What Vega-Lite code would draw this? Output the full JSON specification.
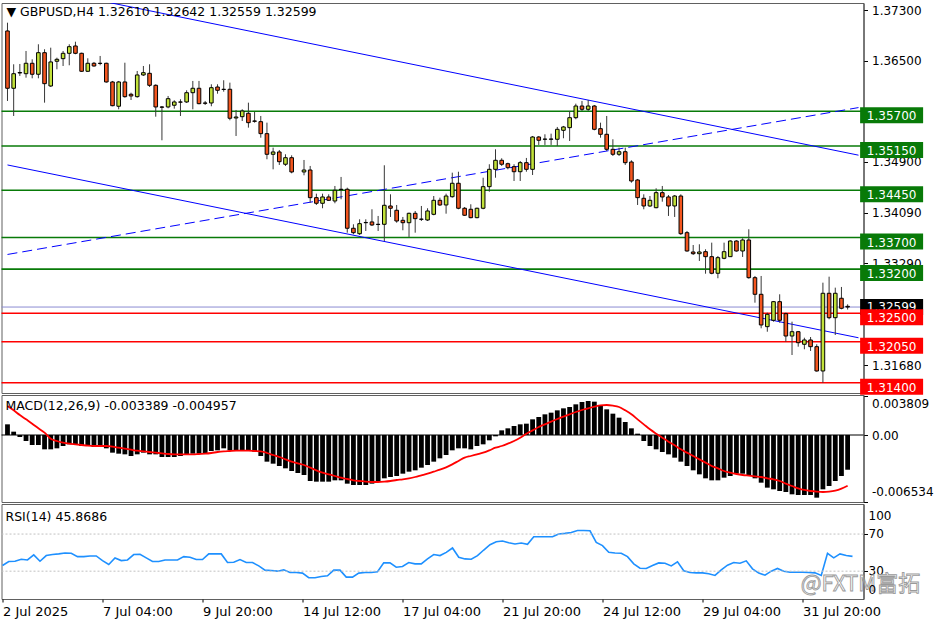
{
"$schema":"https://vega.github.io/schema/vega-lite/v6.json",
"background":"#ffffff",
"padding":{"left":-1.5,"top":2,"right":0,"bottom":0},
"bounds":"flush",
"spacing":2,
"config":{"font":"DejaVu Sans","view":{"stroke":"#606060","strokeWidth":1},
"axis":{"labelFont":"DejaVu Sans","labelFontSize":12,"labelColor":"#000","tickColor":"#000","domainColor":"#404040","grid":false,"labelOverlap":false},
"title":{"font":"DejaVu Sans","fontSize":12.5,"fontWeight":"normal","anchor":"start","frame":"group","color":"#000"}},
"datasets":{
"candles":[
{"i":0,"o":1.36973,"h":1.37104,"l":1.35864,"c":1.36065},
{"i":1,"o":1.36065,"h":1.36445,"l":1.35626,"c":1.36296},
{"i":2,"o":1.36307,"h":1.3645,"l":1.3626,"c":1.36315},
{"i":3,"o":1.36296,"h":1.36656,"l":1.36233,"c":1.36461},
{"i":4,"o":1.36461,"h":1.36524,"l":1.36223,"c":1.36287},
{"i":5,"o":1.36287,"h":1.36762,"l":1.36223,"c":1.36629},
{"i":6,"o":1.36629,"h":1.36683,"l":1.35837,"c":1.36138},
{"i":7,"o":1.36101,"h":1.36708,"l":1.36085,"c":1.36482},
{"i":8,"o":1.36493,"h":1.3655,"l":1.36366,"c":1.36524},
{"i":9,"o":1.36534,"h":1.36656,"l":1.36418,"c":1.36619},
{"i":10,"o":1.36619,"h":1.36762,"l":1.36429,"c":1.36724},
{"i":11,"o":1.36735,"h":1.36803,"l":1.36604,"c":1.36619},
{"i":12,"o":1.36619,"h":1.36629,"l":1.36323,"c":1.36334},
{"i":13,"o":1.36334,"h":1.3654,"l":1.36323,"c":1.36461},
{"i":14,"o":1.36461,"h":1.36482,"l":1.36407,"c":1.36418},
{"i":15,"o":1.36461,"h":1.36577,"l":1.36429,"c":1.36458},
{"i":16,"o":1.36461,"h":1.3647,"l":1.36154,"c":1.36165},
{"i":17,"o":1.36165,"h":1.36181,"l":1.3578,"c":1.35789},
{"i":18,"o":1.3578,"h":1.36181,"l":1.35732,"c":1.36165},
{"i":19,"o":1.36165,"h":1.3647,"l":1.35916,"c":1.35932},
{"i":20,"o":1.3597,"h":1.35995,"l":1.35879,"c":1.35943},
{"i":21,"o":1.35932,"h":1.36339,"l":1.35916,"c":1.36276},
{"i":22,"o":1.36276,"h":1.36418,"l":1.3626,"c":1.36312},
{"i":23,"o":1.36302,"h":1.36445,"l":1.36085,"c":1.36112},
{"i":24,"o":1.36112,"h":1.36128,"l":1.35615,"c":1.35769},
{"i":25,"o":1.35769,"h":1.35784,"l":1.35241,"c":1.35764},
{"i":26,"o":1.35769,"h":1.35943,"l":1.35748,"c":1.359},
{"i":27,"o":1.35796,"h":1.35875,"l":1.35742,"c":1.35848},
{"i":28,"o":1.35848,"h":1.35891,"l":1.35626,"c":1.35845},
{"i":29,"o":1.35848,"h":1.36033,"l":1.35832,"c":1.35995},
{"i":30,"o":1.35995,"h":1.36181,"l":1.35732,"c":1.36065},
{"i":31,"o":1.36065,"h":1.36181,"l":1.35811,"c":1.35821},
{"i":32,"o":1.35832,"h":1.35864,"l":1.358,"c":1.35827},
{"i":33,"o":1.35832,"h":1.36128,"l":1.3578,"c":1.36074},
{"i":34,"o":1.36085,"h":1.36128,"l":1.35979,"c":1.36033},
{"i":35,"o":1.36049,"h":1.36192,"l":1.36011,"c":1.36046},
{"i":36,"o":1.36049,"h":1.36154,"l":1.35558,"c":1.3559},
{"i":37,"o":1.35594,"h":1.35721,"l":1.35309,"c":1.3561},
{"i":38,"o":1.35615,"h":1.35732,"l":1.35547,"c":1.35705},
{"i":39,"o":1.35669,"h":1.35837,"l":1.35441,"c":1.3552},
{"i":40,"o":1.35547,"h":1.35689,"l":1.3552,"c":1.35542},
{"i":41,"o":1.35536,"h":1.35626,"l":1.35282,"c":1.35346},
{"i":42,"o":1.35346,"h":1.3552,"l":1.3494,"c":1.35019},
{"i":43,"o":1.35019,"h":1.35124,"l":1.34781,"c":1.35056},
{"i":44,"o":1.35056,"h":1.35087,"l":1.3485,"c":1.34902},
{"i":45,"o":1.34861,"h":1.35019,"l":1.34834,"c":1.34965},
{"i":46,"o":1.34965,"h":1.35003,"l":1.34718,"c":1.34739},
{"i":48,"o":1.34739,"h":1.34929,"l":1.34686,"c":1.3477},
{"i":49,"o":1.3477,"h":1.34834,"l":1.34252,"c":1.34332},
{"i":50,"o":1.34332,"h":1.34395,"l":1.34216,"c":1.34243},
{"i":51,"o":1.34243,"h":1.34395,"l":1.34164,"c":1.34343},
{"i":52,"o":1.34343,"h":1.34385,"l":1.34279,"c":1.3429},
{"i":53,"o":1.34279,"h":1.34517,"l":1.34243,"c":1.34449},
{"i":54,"o":1.34465,"h":1.3466,"l":1.34306,"c":1.3446},
{"i":55,"o":1.34465,"h":1.3449,"l":1.33777,"c":1.33847},
{"i":56,"o":1.33847,"h":1.3391,"l":1.33752,"c":1.33777},
{"i":57,"o":1.33761,"h":1.33989,"l":1.33741,"c":1.3392},
{"i":58,"o":1.33935,"h":1.33989,"l":1.33804,"c":1.33939},
{"i":59,"o":1.33947,"h":1.34148,"l":1.33883,"c":1.33899},
{"i":60,"o":1.3391,"h":1.34042,"l":1.33804,"c":1.33907},
{"i":61,"o":1.3391,"h":1.34845,"l":1.33645,"c":1.34211},
{"i":62,"o":1.342,"h":1.34385,"l":1.34026,"c":1.34164},
{"i":63,"o":1.34132,"h":1.34216,"l":1.33935,"c":1.33962},
{"i":64,"o":1.33973,"h":1.34026,"l":1.33815,"c":1.33935},
{"i":65,"o":1.33935,"h":1.34094,"l":1.33709,"c":1.34084},
{"i":66,"o":1.34084,"h":1.34121,"l":1.33777,"c":1.33999},
{"i":67,"o":1.33989,"h":1.342,"l":1.33962,"c":1.33992},
{"i":68,"o":1.33978,"h":1.34164,"l":1.33962,"c":1.34121},
{"i":69,"o":1.34068,"h":1.34358,"l":1.34053,"c":1.3429},
{"i":70,"o":1.3429,"h":1.34332,"l":1.342,"c":1.34216},
{"i":71,"o":1.34216,"h":1.34395,"l":1.34078,"c":1.34358},
{"i":72,"o":1.34347,"h":1.34728,"l":1.34332,"c":1.3456},
{"i":73,"o":1.3456,"h":1.34743,"l":1.34148,"c":1.34164},
{"i":74,"o":1.34164,"h":1.34184,"l":1.34042,"c":1.34053},
{"i":75,"o":1.34148,"h":1.34227,"l":1.34005,"c":1.34015},
{"i":76,"o":1.34015,"h":1.34173,"l":1.34005,"c":1.34164},
{"i":77,"o":1.34164,"h":1.34648,"l":1.34148,"c":1.34506},
{"i":78,"o":1.34506,"h":1.34861,"l":1.34427,"c":1.34781},
{"i":79,"o":1.34781,"h":1.35098,"l":1.34648,"c":1.34924},
{"i":80,"o":1.34924,"h":1.34956,"l":1.34834,"c":1.34861},
{"i":81,"o":1.3487,"h":1.34886,"l":1.34781,"c":1.34807},
{"i":82,"o":1.34823,"h":1.34861,"l":1.34596,"c":1.34743},
{"i":83,"o":1.34743,"h":1.34913,"l":1.34596,"c":1.34886},
{"i":84,"o":1.34886,"h":1.34961,"l":1.34743,"c":1.34781},
{"i":85,"o":1.34781,"h":1.35309,"l":1.34691,"c":1.35293},
{"i":86,"o":1.35293,"h":1.35309,"l":1.35167,"c":1.35241},
{"i":87,"o":1.35257,"h":1.35336,"l":1.35167,"c":1.3526},
{"i":88,"o":1.35257,"h":1.35346,"l":1.35167,"c":1.35261},
{"i":89,"o":1.35257,"h":1.35452,"l":1.35151,"c":1.35415},
{"i":90,"o":1.35399,"h":1.35468,"l":1.35273,"c":1.35452},
{"i":91,"o":1.35441,"h":1.35705,"l":1.3523,"c":1.35599},
{"i":92,"o":1.35599,"h":1.35821,"l":1.35574,"c":1.35784},
{"i":93,"o":1.35784,"h":1.35864,"l":1.35705,"c":1.35732},
{"i":94,"o":1.35732,"h":1.35879,"l":1.35705,"c":1.35784},
{"i":95,"o":1.35784,"h":1.358,"l":1.35399,"c":1.35415},
{"i":96,"o":1.35425,"h":1.3552,"l":1.35282,"c":1.35336},
{"i":97,"o":1.35336,"h":1.35626,"l":1.35071,"c":1.35098},
{"i":98,"o":1.35098,"h":1.35257,"l":1.34992,"c":1.35019},
{"i":99,"o":1.35019,"h":1.35124,"l":1.34992,"c":1.3506},
{"i":100,"o":1.3506,"h":1.35124,"l":1.3485,"c":1.34886},
{"i":101,"o":1.34897,"h":1.34924,"l":1.34569,"c":1.34596},
{"i":102,"o":1.34612,"h":1.34628,"l":1.34216,"c":1.34332},
{"i":103,"o":1.34322,"h":1.34385,"l":1.34148,"c":1.342},
{"i":104,"o":1.342,"h":1.34358,"l":1.34184,"c":1.3429},
{"i":105,"o":1.34173,"h":1.3448,"l":1.34164,"c":1.34411},
{"i":106,"o":1.34411,"h":1.34517,"l":1.34268,"c":1.34343},
{"i":107,"o":1.34343,"h":1.34374,"l":1.34042,"c":1.342},
{"i":108,"o":1.342,"h":1.34374,"l":1.34026,"c":1.34358},
{"i":109,"o":1.34358,"h":1.34385,"l":1.33741,"c":1.33761},
{"i":110,"o":1.33777,"h":1.33804,"l":1.33476,"c":1.33487},
{"i":111,"o":1.33471,"h":1.33582,"l":1.33424,"c":1.33444},
{"i":112,"o":1.33444,"h":1.33593,"l":1.33329,"c":1.33471},
{"i":113,"o":1.33476,"h":1.33514,"l":1.33127,"c":1.33397},
{"i":114,"o":1.33397,"h":1.33619,"l":1.33118,"c":1.33134},
{"i":115,"o":1.33134,"h":1.33408,"l":1.33055,"c":1.33381},
{"i":116,"o":1.33371,"h":1.33619,"l":1.33356,"c":1.33476},
{"i":117,"o":1.33397,"h":1.33657,"l":1.33392,"c":1.33645},
{"i":118,"o":1.33645,"h":1.33657,"l":1.33476,"c":1.33487},
{"i":119,"o":1.33487,"h":1.33688,"l":1.33392,"c":1.33661},
{"i":120,"o":1.33661,"h":1.33831,"l":1.33048,"c":1.33064},
{"i":121,"o":1.33064,"h":1.33091,"l":1.32668,"c":1.32801},
{"i":122,"o":1.32801,"h":1.33091,"l":1.32262,"c":1.32315},
{"i":123,"o":1.32288,"h":1.32509,"l":1.32208,"c":1.32484},
{"i":124,"o":1.32389,"h":1.32695,"l":1.32367,"c":1.32684},
{"i":125,"o":1.32684,"h":1.32801,"l":1.32351,"c":1.32389},
{"i":126,"o":1.32494,"h":1.32509,"l":1.3205,"c":1.3214},
{"i":127,"o":1.3214,"h":1.32367,"l":1.31839,"c":1.32208},
{"i":128,"o":1.32208,"h":1.3222,"l":1.31971,"c":1.32034},
{"i":129,"o":1.32009,"h":1.32113,"l":1.3193,"c":1.32077},
{"i":130,"o":1.32077,"h":1.32124,"l":1.31903,"c":1.31971},
{"i":131,"o":1.31971,"h":1.32009,"l":1.31575,"c":1.31586},
{"i":132,"o":1.31586,"h":1.32985,"l":1.314,"c":1.32817},
{"i":133,"o":1.32817,"h":1.3308,"l":1.32405,"c":1.3243},
{"i":134,"o":1.3243,"h":1.32906,"l":1.32156,"c":1.32817},
{"i":135,"o":1.32738,"h":1.32917,"l":1.32563,"c":1.32579},
{"i":136,"o":1.3261,"h":1.32642,"l":1.32559,"c":1.32599}],
"ind":[
{"i":0,"macd":0.001041,"signal":0.00283,"rsi":36.1},
{"i":1,"macd":0.000325,"signal":0.002407,"rsi":40.4},
{"i":2,"macd":-0.000195,"signal":0.001952,"rsi":40.7},
{"i":3,"macd":-0.000586,"signal":0.001529,"rsi":42.9},
{"i":4,"macd":-0.000976,"signal":0.001106,"rsi":42.1},
{"i":5,"macd":-0.000976,"signal":0.000651,"rsi":47.5},
{"i":6,"macd":-0.001399,"signal":0.000228,"rsi":40.7},
{"i":7,"macd":-0.001399,"signal":-0.000358,"rsi":46.8},
{"i":8,"macd":-0.001301,"signal":-0.000586,"rsi":47.9},
{"i":9,"macd":-0.001073,"signal":-0.000748,"rsi":48.6},
{"i":10,"macd":-0.000911,"signal":-0.000846,"rsi":49.6},
{"i":11,"macd":-0.000911,"signal":-0.000911,"rsi":49.3},
{"i":12,"macd":-0.001073,"signal":-0.000976,"rsi":45.7},
{"i":13,"macd":-0.001073,"signal":-0.001041,"rsi":45.7},
{"i":14,"macd":-0.001171,"signal":-0.001073,"rsi":46.4},
{"i":15,"macd":-0.001171,"signal":-0.001073,"rsi":46.4},
{"i":16,"macd":-0.001301,"signal":-0.001073,"rsi":41.4},
{"i":17,"macd":-0.001724,"signal":-0.001139,"rsi":37.2},
{"i":18,"macd":-0.001822,"signal":-0.001236,"rsi":44.3},
{"i":19,"macd":-0.001887,"signal":-0.001334,"rsi":41.4},
{"i":20,"macd":-0.002049,"signal":-0.001431,"rsi":42.1},
{"i":21,"macd":-0.001887,"signal":-0.001529,"rsi":47.9},
{"i":22,"macd":-0.001724,"signal":-0.001594,"rsi":48.2},
{"i":23,"macd":-0.001887,"signal":-0.001659,"rsi":44.3},
{"i":24,"macd":-0.001887,"signal":-0.001724,"rsi":40.4},
{"i":25,"macd":-0.002147,"signal":-0.001789,"rsi":40.4},
{"i":26,"macd":-0.002147,"signal":-0.001854,"rsi":42.1},
{"i":27,"macd":-0.002147,"signal":-0.001887,"rsi":42.1},
{"i":28,"macd":-0.002049,"signal":-0.001887,"rsi":42.1},
{"i":29,"macd":-0.001887,"signal":-0.001887,"rsi":45.7},
{"i":30,"macd":-0.001822,"signal":-0.001887,"rsi":45.0},
{"i":31,"macd":-0.001822,"signal":-0.001854,"rsi":42.5},
{"i":32,"macd":-0.001822,"signal":-0.001822,"rsi":42.5},
{"i":33,"macd":-0.001561,"signal":-0.001757,"rsi":48.6},
{"i":34,"macd":-0.001496,"signal":-0.001659,"rsi":48.6},
{"i":35,"macd":-0.001301,"signal":-0.001594,"rsi":48.6},
{"i":36,"macd":-0.001496,"signal":-0.001561,"rsi":39.3},
{"i":37,"macd":-0.001561,"signal":-0.001529,"rsi":39.6},
{"i":38,"macd":-0.001561,"signal":-0.001529,"rsi":42.5},
{"i":39,"macd":-0.001561,"signal":-0.001529,"rsi":39.3},
{"i":40,"macd":-0.001626,"signal":-0.001561,"rsi":39.3},
{"i":41,"macd":-0.002049,"signal":-0.001594,"rsi":35.7},
{"i":42,"macd":-0.002602,"signal":-0.001757,"rsi":31.1},
{"i":43,"macd":-0.002798,"signal":-0.001952,"rsi":30.7},
{"i":44,"macd":-0.003025,"signal":-0.002147,"rsi":30.0},
{"i":45,"macd":-0.003253,"signal":-0.002375,"rsi":31.4},
{"i":46,"macd":-0.003513,"signal":-0.002602,"rsi":28.6},
{"i":47,"macd":-0.003708,"signal":-0.002765,"rsi":28.6},
{"i":48,"macd":-0.003904,"signal":-0.002928,"rsi":27.9},
{"i":49,"macd":-0.004489,"signal":-0.003188,"rsi":22.9},
{"i":50,"macd":-0.004554,"signal":-0.003448,"rsi":22.9},
{"i":51,"macd":-0.004554,"signal":-0.003676,"rsi":24.3},
{"i":52,"macd":-0.004554,"signal":-0.003839,"rsi":25.0},
{"i":53,"macd":-0.004424,"signal":-0.004001,"rsi":31.1},
{"i":54,"macd":-0.004424,"signal":-0.004164,"rsi":31.1},
{"i":55,"macd":-0.004749,"signal":-0.004294,"rsi":23.6},
{"i":56,"macd":-0.004879,"signal":-0.004424,"rsi":23.6},
{"i":57,"macd":-0.004879,"signal":-0.004489,"rsi":27.9},
{"i":58,"macd":-0.004879,"signal":-0.004554,"rsi":28.6},
{"i":59,"macd":-0.004749,"signal":-0.004587,"rsi":28.6},
{"i":60,"macd":-0.004489,"signal":-0.004587,"rsi":29.3},
{"i":61,"macd":-0.004229,"signal":-0.004554,"rsi":38.9},
{"i":62,"macd":-0.004099,"signal":-0.004489,"rsi":38.9},
{"i":63,"macd":-0.004001,"signal":-0.004392,"rsi":34.3},
{"i":64,"macd":-0.003773,"signal":-0.004326,"rsi":35.0},
{"i":65,"macd":-0.003578,"signal":-0.004229,"rsi":39.3},
{"i":66,"macd":-0.003448,"signal":-0.004099,"rsi":37.9},
{"i":67,"macd":-0.003188,"signal":-0.003936,"rsi":37.9},
{"i":68,"macd":-0.002928,"signal":-0.003773,"rsi":43.2},
{"i":69,"macd":-0.002602,"signal":-0.003578,"rsi":47.9},
{"i":70,"macd":-0.002277,"signal":-0.003383,"rsi":46.8},
{"i":71,"macd":-0.001952,"signal":-0.003155,"rsi":50.3},
{"i":72,"macd":-0.001496,"signal":-0.002863,"rsi":55.0},
{"i":73,"macd":-0.001301,"signal":-0.002537,"rsi":45.0},
{"i":74,"macd":-0.001301,"signal":-0.002212,"rsi":43.2},
{"i":75,"macd":-0.001399,"signal":-0.002049,"rsi":42.9},
{"i":76,"macd":-0.001073,"signal":-0.001887,"rsi":46.8},
{"i":77,"macd":-0.000911,"signal":-0.001724,"rsi":52.8},
{"i":78,"macd":-0.00052,"signal":-0.001496,"rsi":58.5},
{"i":79,"macd":-0.00013,"signal":-0.001236,"rsi":61.8},
{"i":80,"macd":0.000455,"signal":-0.001073,"rsi":62.5},
{"i":81,"macd":0.000651,"signal":-0.000846,"rsi":60.7},
{"i":82,"macd":0.000878,"signal":-0.000586,"rsi":59.3},
{"i":83,"macd":0.001041,"signal":-0.00026,"rsi":60.3},
{"i":84,"macd":0.001106,"signal":0.00013,"rsi":58.9},
{"i":85,"macd":0.001529,"signal":0.000455,"rsi":67.1},
{"i":86,"macd":0.001757,"signal":0.000781,"rsi":67.1},
{"i":87,"macd":0.002017,"signal":0.001041,"rsi":67.1},
{"i":88,"macd":0.00218,"signal":0.001301,"rsi":67.1},
{"i":89,"macd":0.002407,"signal":0.001561,"rsi":70.0},
{"i":90,"macd":0.002602,"signal":0.001789,"rsi":70.7},
{"i":91,"macd":0.002733,"signal":0.002017,"rsi":71.7},
{"i":92,"macd":0.002993,"signal":0.002245,"rsi":73.9},
{"i":93,"macd":0.003221,"signal":0.00244,"rsi":73.9},
{"i":94,"macd":0.003318,"signal":0.002602,"rsi":73.5},
{"i":95,"macd":0.003253,"signal":0.002765,"rsi":61.0},
{"i":96,"macd":0.00283,"signal":0.002895,"rsi":57.5},
{"i":97,"macd":0.002505,"signal":0.002928,"rsi":50.3},
{"i":98,"macd":0.002082,"signal":0.002863,"rsi":49.6},
{"i":99,"macd":0.001692,"signal":0.002733,"rsi":49.3},
{"i":100,"macd":0.001269,"signal":0.002407,"rsi":45.7},
{"i":101,"macd":0.000651,"signal":0.002017,"rsi":37.9},
{"i":102,"macd":0.00013,"signal":0.001529,"rsi":33.2},
{"i":103,"macd":-0.000586,"signal":0.001041,"rsi":32.9},
{"i":104,"macd":-0.001073,"signal":0.000553,"rsi":36.1},
{"i":105,"macd":-0.001399,"signal":0.00013,"rsi":38.9},
{"i":106,"macd":-0.001659,"signal":-0.00026,"rsi":38.6},
{"i":107,"macd":-0.001887,"signal":-0.000651,"rsi":35.7},
{"i":108,"macd":-0.002212,"signal":-0.001008,"rsi":40.0},
{"i":109,"macd":-0.002602,"signal":-0.001399,"rsi":30.4},
{"i":110,"macd":-0.003025,"signal":-0.001724,"rsi":28.6},
{"i":111,"macd":-0.003448,"signal":-0.002049,"rsi":28.2},
{"i":112,"macd":-0.003839,"signal":-0.002375,"rsi":28.2},
{"i":113,"macd":-0.004229,"signal":-0.0027,"rsi":27.2},
{"i":114,"macd":-0.004424,"signal":-0.003025,"rsi":25.4},
{"i":115,"macd":-0.004424,"signal":-0.003253,"rsi":31.4},
{"i":116,"macd":-0.004164,"signal":-0.003513,"rsi":36.4},
{"i":117,"macd":-0.004001,"signal":-0.003676,"rsi":39.3},
{"i":118,"macd":-0.003773,"signal":-0.003806,"rsi":38.6},
{"i":119,"macd":-0.003773,"signal":-0.003904,"rsi":41.1},
{"i":120,"macd":-0.004001,"signal":-0.003969,"rsi":32.5},
{"i":121,"macd":-0.004229,"signal":-0.004034,"rsi":27.9},
{"i":122,"macd":-0.004652,"signal":-0.004099,"rsi":25.7},
{"i":123,"macd":-0.00514,"signal":-0.004229,"rsi":30.0},
{"i":124,"macd":-0.005302,"signal":-0.004326,"rsi":32.9},
{"i":125,"macd":-0.005465,"signal":-0.004489,"rsi":30.0},
{"i":126,"macd":-0.005563,"signal":-0.004749,"rsi":28.9},
{"i":127,"macd":-0.00579,"signal":-0.004977,"rsi":28.9},
{"i":128,"macd":-0.005855,"signal":-0.005205,"rsi":28.9},
{"i":129,"macd":-0.005855,"signal":-0.005367,"rsi":28.6},
{"i":130,"macd":-0.005855,"signal":-0.005465,"rsi":28.2},
{"i":131,"macd":-0.006116,"signal":-0.00553,"rsi":25.4},
{"i":132,"macd":-0.005302,"signal":-0.005563,"rsi":49.3},
{"i":133,"macd":-0.004977,"signal":-0.00553,"rsi":44.3},
{"i":134,"macd":-0.004489,"signal":-0.005432,"rsi":48.6},
{"i":135,"macd":-0.004001,"signal":-0.005237,"rsi":46.8},
{"i":136,"macd":-0.003389,"signal":-0.004957,"rsi":45.9}],
"levels":[
{"p":1.357,"kind":"res"},{"p":1.3515,"kind":"res"},{"p":1.3445,"kind":"res"},{"p":1.337,"kind":"res"},{"p":1.332,"kind":"res"},
{"p":1.325,"kind":"sup"},{"p":1.3205,"kind":"sup"},{"p":1.314,"kind":"sup"}],
"bid":[{"p":1.32599}],
"trend":[
{"line":"a","i":0,"p":1.37752},{"line":"a","i":137.76,"p":1.35005},
{"line":"b","i":0,"p":1.3485},{"line":"b","i":137.76,"p":1.32112}],
"trendUp":[{"i":0,"p":1.33432},{"i":137.76,"p":1.35759}],
"rsiScale":[{"v":100},{"v":70},{"v":30},{"v":0}]
},
"vconcat":[
{
"width":862,"height":390,
"title":{"text":"▼  GBPUSD,H4  1.32610 1.32642 1.32559 1.32599","offset":-15,"dx":5},
"layer":[
{"data":{"name":"levels"},"mark":{"type":"rule","strokeWidth":1.6},
 "encoding":{"y":{"field":"p","type":"quantitative","title":null,"scale":{"domain":[1.31237,1.37416],"nice":false,"zero":false},
   "axis":{"orient":"right","values":[1.373,1.365,1.349,1.3409,1.3329,1.3168],"format":".5f","tickSize":4,"labelPadding":4,"title":null}},
  "color":{"field":"kind","type":"nominal","scale":{"domain":["res","sup","bid"],"range":["#087a08","#ff0000","#000000"]},"legend":null}}},
{"data":{"name":"bid"},"mark":{"type":"rule","strokeWidth":1,"color":"#8c8cd2"},
 "encoding":{"y":{"field":"p","type":"quantitative","title":null}}},
{"data":{"name":"trend"},"mark":{"type":"line","color":"#0000ff","strokeWidth":1,"clip":true},
 "encoding":{"x":{"field":"i","type":"quantitative","title":null,"scale":{"domain":[-0.16,137.76],"nice":false,"zero":false},"axis":null},
  "y":{"field":"p","type":"quantitative","title":null},"detail":{"field":"line","type":"nominal"}}},
{"data":{"name":"trendUp"},"mark":{"type":"line","color":"#0000ff","strokeWidth":1,"strokeDash":[10,5],"clip":true},
 "encoding":{"x":{"field":"i","type":"quantitative","title":null},"y":{"field":"p","type":"quantitative","title":null}}},
{"data":{"name":"candles"},"mark":{"type":"rule","color":"#383838","strokeWidth":1},
 "encoding":{"x":{"field":"i","type":"quantitative","title":null},"y":{"field":"l","type":"quantitative","title":null},"y2":{"field":"h"}}},
{"data":{"name":"candles"},"mark":{"type":"bar","width":3.6,"stroke":"#000000","strokeWidth":1,"opacity":1},
 "encoding":{"x":{"field":"i","type":"quantitative","title":null},"y":{"field":"o","type":"quantitative","title":null},"y2":{"field":"c"},
  "color":{"condition":{"test":"datum.c >= datum.o","value":"#c2e23a"},"value":"#f4561f"}}},
{"data":{"name":"bid"},"mark":{"type":"tick","orient":"horizontal","size":63,"thickness":16,"color":"#000000","opacity":1,"filled":true},
 "encoding":{"x":{"datum":143.12},"y":{"field":"p","type":"quantitative","title":null}}},
{"data":{"name":"bid"},"mark":{"type":"text","color":"#ffffff","fontSize":12,"align":"center","baseline":"middle","dy":0},
 "encoding":{"x":{"datum":143.12},"y":{"field":"p","type":"quantitative","title":null},"text":{"field":"p","type":"quantitative","format":".5f"}}},
{"data":{"name":"levels"},"mark":{"type":"tick","orient":"horizontal","size":63,"thickness":16,"yOffset":4,"opacity":1,"filled":true},
 "encoding":{"x":{"datum":143.12},"y":{"field":"p","type":"quantitative","title":null},"color":{"field":"kind","type":"nominal","legend":null}}},
{"data":{"name":"levels"},"mark":{"type":"text","color":"#ffffff","fontSize":12,"align":"center","baseline":"middle","dy":5},
 "encoding":{"x":{"datum":143.12},"y":{"field":"p","type":"quantitative","title":null},"text":{"field":"p","type":"quantitative","format":".5f"}}}
]
},
{
"width":862,"height":107,
"title":{"text":"MACD(12,26,9) -0.003389 -0.004957","offset":-17,"dx":4},
"layer":[
{"data":{"name":"ind"},"mark":{"type":"bar","width":4.8,"color":"#000000","opacity":1},
 "encoding":{"x":{"field":"i","type":"quantitative","title":null,"scale":{"domain":[-0.16,137.76],"nice":false,"zero":false},"axis":null},
  "y":{"field":"macd","type":"quantitative","title":null,"scale":{"domain":[-0.006539,0.003904],"nice":false,"zero":false},
   "axis":{"orient":"right","values":[0.003809,0,-0.006534],"labelExpr":"datum.value == 0 ? '0.00' : (datum.value < 0 ? '-' + format(-datum.value, '.6f') : format(datum.value, '.6f'))","labelFlush":3,"labelFlushOffset":-3,"tickSize":4,"labelPadding":4,"title":null}},
  "y2":{"datum":0}}},
{"data":{"values":[{"z":0}]},"mark":{"type":"rule","color":"#000000","strokeWidth":1},
 "encoding":{"y":{"field":"z","type":"quantitative","title":null}}},
{"data":{"name":"ind"},"mark":{"type":"line","color":"#ff0000","strokeWidth":1.8,"interpolate":"monotone"},
 "encoding":{"x":{"field":"i","type":"quantitative","title":null},"y":{"field":"signal","type":"quantitative","title":null}}}
]
},
{
"width":862,"height":95,
"title":{"text":"RSI(14) 45.8686","offset":-19,"dx":4},
"layer":[
{"data":{"name":"ind"},"mark":{"type":"line","color":"#1e90ff","strokeWidth":1.6},
 "encoding":{"x":{"field":"i","type":"quantitative","title":null,"scale":{"domain":[-0.16,137.76],"nice":false,"zero":false},
   "axis":{"orient":"bottom","values":[0,16,32,48,64,80,96,112,128],"labelExpr":"['2 Jul 2025','7 Jul 04:00','9 Jul 20:00','14 Jul 12:00','17 Jul 04:00','21 Jul 20:00','24 Jul 12:00','29 Jul 04:00','31 Jul 20:00'][round(datum.value/16)]","labelAlign":"left","labelFontSize":13,"tickSize":3,"labelPadding":3,"domain":false,"title":null}},
  "y":{"field":"rsi","type":"quantitative","title":null,"scale":{"domain":[0,102.4],"nice":false,"zero":false},
   "axis":{"orient":"right","values":[70,30],"labels":false,"tickSize":4,"title":null}}}},
{"data":{"values":[{"lvl":70},{"lvl":30}]},"mark":{"type":"rule","color":"#c0c0c0","strokeWidth":1,"strokeDash":[2,2]},
 "encoding":{"y":{"field":"lvl","type":"quantitative","title":null}}},
{"data":{"name":"rsiScale"},"transform":[{"filter":"datum.v == 100"}],"mark":{"type":"text","fontSize":12,"align":"left","baseline":"middle","dy":10,"color":"#000"},
 "encoding":{"x":{"datum":138.56},"y":{"field":"v","type":"quantitative","title":null},"text":{"field":"v","type":"quantitative","format":"d"}}},
{"data":{"name":"rsiScale"},"transform":[{"filter":"datum.v == 70 || datum.v == 30"}],"mark":{"type":"text","fontSize":12,"align":"left","baseline":"middle","dy":0.3,"color":"#000"},
 "encoding":{"x":{"datum":138.56},"y":{"field":"v","type":"quantitative","title":null},"text":{"field":"v","type":"quantitative","format":"d"}}},
{"data":{"values":[{"t":"@FXTM富拓"}]},"mark":{"type":"text","font":"Noto Sans CJK SC","fontSize":22,"align":"left","baseline":"middle","fill":"#ffffff","fillOpacity":0.2,"stroke":"#9a9a9a","strokeWidth":0.9},
 "encoding":{"x":{"datum":127.7},"y":{"datum":16},"text":{"field":"t","type":"nominal"}}},
{"data":{"name":"rsiScale"},"transform":[{"filter":"datum.v == 0"}],"mark":{"type":"text","fontSize":12,"align":"left","baseline":"middle","dy":-9,"color":"#000"},
 "encoding":{"x":{"datum":138.56},"y":{"field":"v","type":"quantitative","title":null},"text":{"field":"v","type":"quantitative","format":"d"}}}
]
}
]
}
